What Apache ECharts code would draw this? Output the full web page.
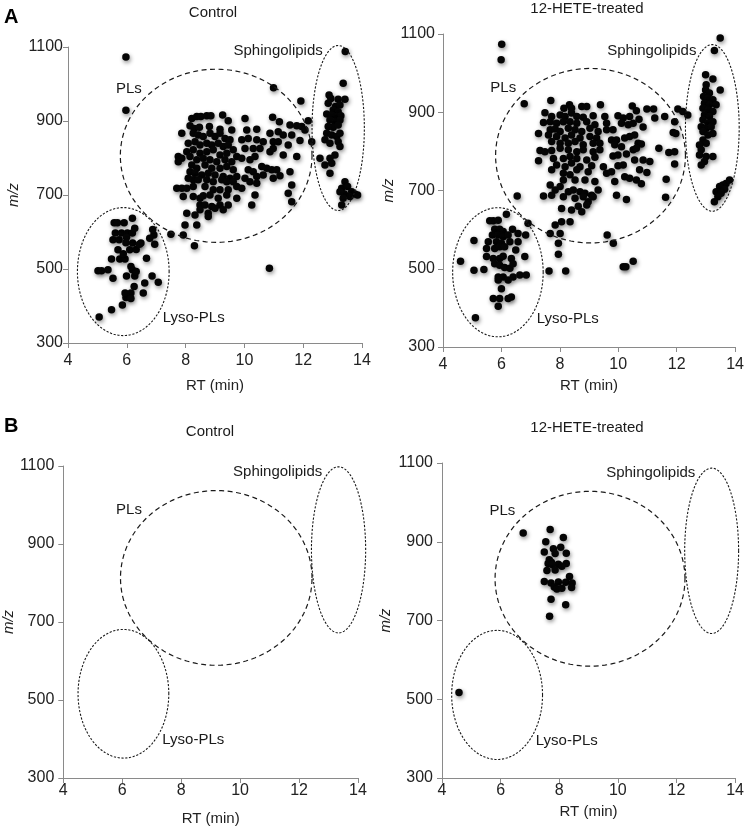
<!DOCTYPE html>
<html>
<head>
<meta charset="utf-8">
<script src="https://cdn.jsdelivr.net/npm/echarts@6/dist/echarts.min.js"></script>
<style>
html,body{margin:0;padding:0;background:#fff;}
#chart{width:747px;height:829px;}
</style>
</head>
<body>
<div id="chart"></div>
<script>
// ---------- data (RT in min, m/z) ----------
var xTicks = [4, 6, 8, 10, 12, 14];
var yTicks = [300, 500, 700, 900, 1100];
var panelTitles = ['Control', '12-HETE-treated', 'Control', '12-HETE-treated'];
var panelLetters = ['A', 'B'];
var regionNames = ['PLs', 'Sphingolipids', 'Lyso-PLs'];

var controlA = [
[5.97,1073],[5.97,929],[10.99,990],[13.43,1088],[10.85,502],[11.92,954],
[5.06,370],[5.48,390],[5.85,403],[5.97,423],[5.94,435],[6.14,435],[6.14,420],[6.25,453],[6.56,435],[6.61,462],[7.07,464],[6.86,481],[5.02,495],[5.14,495],[5.36,498],[5.53,475],[5.99,481],[6.19,498],[6.27,481],[6.32,493],[6.14,507],[5.48,527],[5.76,527],[5.94,527],[6.67,529],[5.70,552],[5.88,541],[6.10,552],[6.32,553],[6.20,570],[6.48,570],[5.53,579],[5.74,579],[5.61,597],[5.82,597],[6.02,597],[6.19,597],[5.99,586],[6.27,610],[5.57,625],[5.68,625],[5.91,625],[6.19,637],[6.92,592],[6.78,583],[6.95,567],[6.43,567],[5.97,571],[6.88,607],
[8.21,907],[8.38,912],[8.52,912],[8.72,914],[8.86,914],[9.26,916],[9.45,901],
[7.87,867],[8.15,887],[8.29,880],[8.47,883],[8.81,885],[9.17,878],[9.57,876],
[8.26,867],[8.43,862],[8.60,858],[8.83,867],[9.00,858],[9.17,867],[9.34,853],[9.51,849],
[8.09,840],[8.32,844],[8.49,835],[8.72,840],[8.89,835],[9.11,840],[9.28,831],[9.45,835],[9.62,822],
[8.04,817],[8.26,822],[8.49,813],[8.72,817],[8.94,822],[9.17,808],[9.40,813],[9.74,804],
[7.75,804],[7.87,799],[8.15,804],[8.38,795],[8.60,799],[8.83,795],[9.06,790],[9.34,795],[9.57,790],
[7.75,790],[8.21,781],[8.38,772],[8.66,781],[8.89,772],[9.17,772],[9.40,777],[9.62,768],
[8.15,763],[8.32,759],[8.55,754],[8.77,759],[9.00,754],[9.28,750],[9.51,745],[9.74,750],
[8.09,745],[8.26,741],[8.43,741],[8.72,741],[8.94,736],[9.23,741],[9.40,736],[9.62,736],
[7.70,718],[7.87,718],[8.04,718],[8.26,723],[8.66,723],[8.94,714],[9.17,714],[9.45,714],[9.74,723],
[7.92,696],[8.26,696],[8.49,691],[8.60,698],[8.83,700],[9.11,691],[9.40,700],[9.74,691],
[8.49,673],[8.66,673],[8.89,669],[9.17,673],[9.45,673],
[8.49,660],[8.77,651],[9.00,664],[9.28,660],
[8.04,651],[8.32,646],[8.77,642],
[7.98,619],[8.38,619],[7.92,592],[7.50,594],[8.30,563],
[10.02,907],[10.96,910],[11.19,898],[11.55,889],[11.78,887],[11.95,885],[12.17,901],[12.06,876],
[10.08,876],[10.42,878],[10.87,867],[11.15,871],[11.32,862],[11.61,862],
[9.91,849],[10.13,853],[10.42,849],[10.64,844],[10.98,844],[11.15,844],[11.49,835],[11.89,847],[12.29,844],
[10.02,826],[10.30,826],[10.53,826],[10.87,817],[10.98,826],[11.32,808],[11.78,804],
[9.91,799],[10.19,795],[10.36,804],[10.59,777],[10.76,772],[10.93,768],[11.10,768],[11.55,763],
[10.13,768],[10.30,763],[10.02,745],[10.42,750],[10.64,754],[10.98,745],[11.21,752],
[10.19,736],[10.42,732],[11.61,727],
[9.91,718],[10.36,700],[11.49,705],
[10.25,673],[11.61,682],
[13.36,1002],
[12.88,970],[12.94,961],[13.19,959],[13.42,959],[12.85,948],[13.10,939],[13.25,943],[13.02,930],[13.19,925],[12.80,919],[12.97,916],[13.14,912],[13.28,914],[12.91,903],[13.08,898],[13.25,903],[12.85,885],[13.02,883],[13.19,889],[12.80,867],[12.97,862],[13.14,858],[13.25,867],[12.74,849],[12.91,840],[13.19,844],[13.25,831],[13.08,808],[12.91,799],[12.57,799],[12.74,781],[12.97,786],[12.91,759],
[13.42,736],[13.31,718],[13.51,723],[13.65,709],[13.76,703],[13.40,703],[13.59,696],[13.25,709],[13.36,691],[13.31,673],[13.85,700]
];

var hete12A = [
[6.01,1074],[5.99,1034],[6.78,922],[13.29,1058],[13.49,1090],[9.62,586],[9.83,565],[10.51,519],[10.17,505],[10.26,505],[7.63,494],[8.20,494],[7.95,537],[7.95,565],
[4.60,519],[5.06,572],[5.06,496],[5.40,498],[5.11,375],
[5.60,623],[5.72,623],[5.89,624],[6.17,639],[6.38,601],[5.77,601],[5.94,601],[6.06,595],
[5.69,586],[5.89,586],[6.06,582],[6.23,586],[6.57,590],[6.83,586],
[5.55,569],[5.83,569],[6.00,565],[6.29,569],[6.57,569],
[5.49,552],[5.77,552],[5.94,556],[6.11,556],[6.49,548],
[5.49,531],[5.72,526],[5.94,526],[6.06,532],[6.34,526],[6.80,531],
[5.77,513],[5.94,509],[6.11,503],[6.29,501],[6.40,513],
[5.89,479],[6.06,479],[6.40,479],[6.63,484],[6.85,484],
[5.89,471],[6.23,471],
[6.00,449],[5.72,424],[5.94,424],[6.23,424],[6.34,428],[5.89,404],
[6.54,686],[6.91,616],
[7.69,930],[8.33,919],[8.14,910],[8.40,910],[8.75,915],[8.92,915],[9.39,919],
[7.49,899],[7.72,889],[8.01,893],[8.18,889],[8.40,898],[8.58,889],[8.80,887],[9.14,891],[9.54,889],
[7.44,874],[7.67,876],[7.89,872],[8.12,876],[8.35,876],[8.58,872],[8.92,876],[9.20,868],[9.60,872],
[7.67,855],[7.84,857],[8.01,851],[8.29,859],[8.52,855],[8.75,851],[9.03,859],[9.31,851],[9.60,855],
[7.27,846],[7.61,842],[7.89,838],[8.18,834],[8.40,842],[8.69,834],[9.03,838],[9.26,834],
[7.72,825],[8.01,821],[8.29,821],[8.52,825],[8.80,817],[9.14,821],[9.37,821],
[7.32,802],[7.49,799],[7.72,802],[8.01,808],[8.29,804],[8.58,799],[8.80,804],[9.14,799],[9.37,804],
[7.27,776],[7.78,782],[8.12,782],[8.35,787],[8.58,782],[8.92,778],[9.20,785],
[7.89,765],[8.18,761],[8.40,770],[8.69,761],[9.09,763],[9.49,761],
[7.72,753],[8.12,744],[8.35,740],[8.58,753],[8.97,748],[9.60,744],
[8.12,727],[8.52,727],[8.86,727],[9.20,723],
[7.67,714],[7.84,701],[8.01,710],[8.29,697],[8.46,701],[8.69,697],[8.86,693],[9.09,688],[9.31,701],
[7.44,686],[7.72,688],[8.12,684],[8.52,680],[8.80,684],[8.97,671],[9.14,684],
[8.06,654],[8.40,650],[8.63,660],[8.92,663],[8.75,646],
[7.84,612],[8.06,620],[8.35,620],[7.67,590],[8.01,590],
[10.48,916],[10.62,904],[10.98,908],[11.21,908],[12.04,908],
[9.99,891],[10.17,885],[10.39,889],[10.71,882],[11.25,885],[11.59,889],[11.93,876],
[9.82,855],[10.11,872],[10.34,868],[10.51,872],[10.85,862],
[9.77,829],[9.94,829],[10.22,834],[10.39,838],[10.56,842],[10.68,821],[10.79,819],[11.88,848],[11.97,846],
[9.88,817],[10.11,812],[10.51,804],[10.62,808],[11.39,808],[11.73,797],[11.93,799],
[9.82,788],[9.99,791],[10.28,793],[10.56,778],[10.85,778],[11.08,774],
[9.99,763],[10.17,765],[11.93,768],
[9.77,748],[9.88,723],[10.22,735],[10.39,731],[10.62,727],[10.73,753],[10.98,746],[10.79,717],[11.64,729],
[9.94,688],[10.28,677],[11.62,683],
[12.99,996],[13.24,985],[13.49,957],
[13.01,970],[12.99,957],[13.12,949],[12.92,940],[13.07,936],[13.24,932],[12.95,923],[13.12,919],[13.35,919],[12.90,910],[13.07,906],[13.24,902],[12.95,893],[13.12,889],[12.90,881],[13.07,872],[13.24,876],[12.84,863],[13.01,859],[13.18,863],[12.90,851],[13.07,842],[13.24,846],[12.90,829],[13.01,821],[12.78,816],[12.84,804],[12.78,791],[13.01,787],[13.24,787],[12.95,774],[12.84,765],
[12.38,893],[12.21,902],
[13.81,727],[13.69,718],[13.58,714],[13.47,710],[13.64,703],[13.35,697],[13.52,693],[13.41,684],[13.29,671]
];

var controlB = [];

var hete12B = [
[4.58,517],[6.77,922],[7.69,931],[8.14,911],[7.54,900],[7.80,882],[8.05,886],[7.86,870],[7.49,874],[8.24,871],
[7.66,854],[7.73,848],[7.62,845],[7.97,843],[8.24,845],[8.09,838],[7.76,842],[7.58,827],[7.86,828],[8.35,812],
[7.49,799],[7.72,795],[7.97,798],[8.22,797],[8.44,795],[7.83,785],[7.92,780],[8.09,782],[8.42,784],
[7.72,754],[8.22,740],[7.67,711]
];

// region outlines per panel: [centreRT, centreMZ, halfWidthRT, halfHeightMZ]
var ellipsesTL = [[9.04,806,3.26,234],[13.19,881,0.89,223],[5.88,493,1.56,173]];
var ellipsesTR = [[9.05,789,3.25,223],[13.22,860,0.92,213],[5.88,491,1.55,165]];
var ellipsesBL = [[9.19,813,3.25,224],[13.34,885,0.92,213],[6.04,516,1.54,165]];
var ellipsesBR = [[9.05,806,3.24,222],[13.20,877,0.92,210],[5.88,511,1.55,164]];
// region label anchors (left edge RT, centre m/z)
var labelsTL = [[5.63,988],[9.63,1089],[7.22,367]];
var labelsTR = [[5.62,962],[9.62,1058],[7.21,372]];
var labelsBL = [[5.79,987],[9.76,1085],[7.36,397]];
var labelsBR = [[5.62,979],[9.60,1075],[7.20,395]];

// ---------- layout ----------
var FONT = '"Liberation Sans", Arial, Helvetica, sans-serif';
var grids = [
  {left:68, top:47, width:294, height:296},
  {left:443, top:34, width:293, height:313},
  {left:63, top:466, width:295, height:312},
  {left:442, top:463, width:295, height:315}
];
var xLabelMargin = [10, 10, 5, 5];
var xNameGap = [35, 31, 33, 26];
var yLabelMargin = [5, 8, 9, 9];
var yNameGap = [47, 46, 46, 49];

var chart = echarts.init(document.getElementById('chart'), null, {renderer:'canvas'});

var axisLineStyle = {color:'#8a8a8a', width:1};
var xAxes = [], yAxes = [], series = [];
var pointSets = [controlA, hete12A, controlB, hete12B];
var ellSets = [ellipsesTL, ellipsesTR, ellipsesBL, ellipsesBR];
var labSets = [labelsTL, labelsTR, labelsBL, labelsBR];

for (var i = 0; i < 4; i++) {
  xAxes.push({
    gridIndex:i, type:'value', min:xTicks[0], max:xTicks[xTicks.length-1], interval:2,
    name:'RT (min)', nameLocation:'middle', nameGap:xNameGap[i],
    nameTextStyle:{fontFamily:FONT, fontSize:15, color:'#222'},
    axisLine:{show:true, lineStyle:axisLineStyle},
    axisTick:{show:true, length:5, lineStyle:axisLineStyle},
    axisLabel:{fontFamily:FONT, fontSize:16, color:'#222', margin:xLabelMargin[i], formatter:function(v){return String(v);}},
    splitLine:{show:false}
  });
  yAxes.push({
    gridIndex:i, type:'value', min:yTicks[0], max:yTicks[yTicks.length-1], interval:200,
    name:'m/z', nameLocation:'middle', nameGap:yNameGap[i],
    nameTextStyle:{fontFamily:FONT, fontSize:15, color:'#222', fontStyle:'italic'},
    axisLine:{show:true, lineStyle:axisLineStyle},
    axisTick:{show:true, length:5, lineStyle:axisLineStyle},
    axisLabel:{fontFamily:FONT, fontSize:16, color:'#222', margin:yLabelMargin[i], formatter:function(v){return String(v);}},
    splitLine:{show:false}
  });
  series.push({
    type:'scatter', xAxisIndex:i, yAxisIndex:i, data:pointSets[i],
    symbol:'circle', symbolSize:7.5, silent:true, animation:false,
    itemStyle:{color:'#050505', shadowBlur:4, shadowOffsetX:1, shadowOffsetY:2, shadowColor:'rgba(0,0,0,0.45)', opacity:1}
  });
  series.push({
    type:'custom', xAxisIndex:i, yAxisIndex:i, data:ellSets[i], silent:true, animation:false, clip:false, z:5,
    renderItem:function(params, api){
      var cx = api.value(0), cy = api.value(1), rx = api.value(2), ry = api.value(3);
      var pts = [];
      var N = 120;
      for (var k = 0; k < N; k++) {
        var t = k / N * Math.PI * 2;
        pts.push(api.coord([cx + rx*Math.cos(t), cy + ry*Math.sin(t)]));
      }
      var isPL = params.dataIndex === 0;
      return {
        type:'polygon', shape:{points:pts},
        style:{fill:null, stroke:'#1a1a1a', lineWidth:isPL ? 1.2 : 1.1, lineDash:isPL ? [5,3.5] : [2.2,1.6]}
      };
    }
  });
  series.push({
    type:'custom', xAxisIndex:i, yAxisIndex:i, data:labSets[i], silent:true, animation:false, clip:false, z:6,
    renderItem:function(params, api){
      var p = api.coord([api.value(0), api.value(1)]);
      return {
        type:'text', x:p[0], y:p[1],
        style:{text:regionNames[params.dataIndex], fill:'#1a1a1a', font:'15px ' + FONT, textAlign:'left', textVerticalAlign:'middle'}
      };
    }
  });
}

var graphics = [
  {type:'text', left:4, top:7, style:{text:panelLetters[0], font:'bold 20px ' + FONT, fill:'#000'}},
  {type:'text', left:4, top:416, style:{text:panelLetters[1], font:'bold 20px ' + FONT, fill:'#000'}},
  {type:'text', x:213, y:13, style:{text:panelTitles[0], font:'15px ' + FONT, fill:'#1a1a1a', textAlign:'center', textVerticalAlign:'middle'}},
  {type:'text', x:587, y:9, style:{text:panelTitles[1], font:'15px ' + FONT, fill:'#1a1a1a', textAlign:'center', textVerticalAlign:'middle'}},
  {type:'text', x:210, y:432, style:{text:panelTitles[2], font:'15px ' + FONT, fill:'#1a1a1a', textAlign:'center', textVerticalAlign:'middle'}},
  {type:'text', x:587, y:428, style:{text:panelTitles[3], font:'15px ' + FONT, fill:'#1a1a1a', textAlign:'center', textVerticalAlign:'middle'}}
];

chart.setOption({
  backgroundColor:'#ffffff',
  animation:false,
  grid:grids,
  xAxis:xAxes,
  yAxis:yAxes,
  series:series,
  graphic:graphics
});
</script>
</body>
</html>
